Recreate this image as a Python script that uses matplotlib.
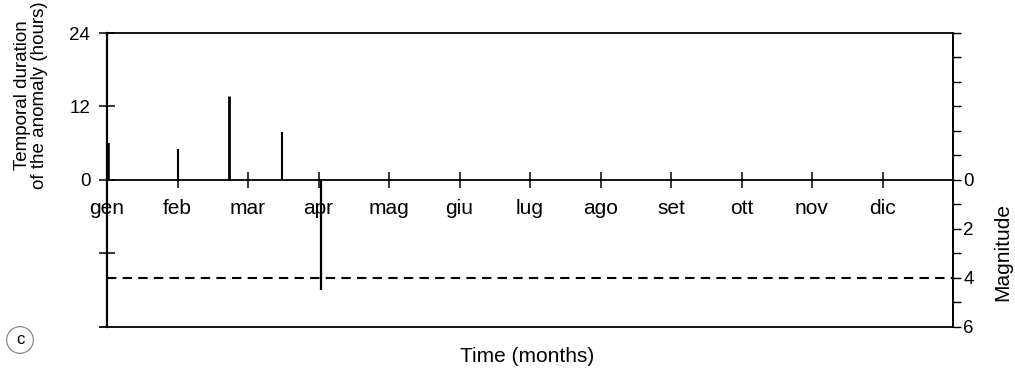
import matplotlib
matplotlib.use("Agg")
import matplotlib.pyplot as plt

plt.rcParams['font.family'] = ['Liberation Sans', 'DejaVu Sans']

# Month labels (Italian) and tick positions along the time axis (months)
months = ["gen", "feb", "mar", "apr", "mag", "giu",
          "lug", "ago", "set", "ott", "nov", "dic"]
month_pos = list(range(12))

# Anomaly durations (hours) and when they occurred (months from 1 Jan)
anomaly_time = [0.02, 1.0, 1.73, 2.48]
anomaly_hours = [6.0, 5.0, 13.7, 7.8]
anomaly_width = [2.6, 1.5, 2.0, 1.5]

# Earthquake magnitudes (plotted downward) and their times
quake_time = [3.04]
quake_mag = [4.5]

# Magnitude threshold
threshold_mag = 4.0

hour_ticks = [24, 12, 0, -12]
hour_labels = ["24", "12", "0", ""]
mag_ticks = [-6, -5, -4, -3, -2, -1, 0, 1, 2, 3, 4, 5, 6]
mag_labels = ["", "", "", "", "", "", "0", "", "2", "", "4", "", "6"]

W, H = 1015, 373
fig = plt.figure(figsize=(W / 100, H / 100), dpi=100)
left, right, top, bottom = 107, 953, 33, 326.5
ax = fig.add_axes([left / W, 1 - bottom / H, (right - left) / W, (bottom - top) / H])

ax.set_xlim(0, 12)
ax.set_ylim(-24, 24)

lw = 1.3
for s in ["left", "right", "top"]:
    ax.spines[s].set_linewidth(lw)
ax.spines["left"].set_linewidth(1.6)
# the time axis runs along the zero line
ax.spines["bottom"].set_position(("data", 0))
ax.spines["bottom"].set_linewidth(lw)
ax.spines["bottom"].set_bounds(0, 12)
# lower frame edge, slightly overhanging on the left
ax.plot([-0.1, 12], [-24, -24], color="black", lw=lw, clip_on=False)

ax.set_xticks(month_pos)
ax.set_xticklabels(months, fontsize=15)
ax.tick_params(axis="x", direction="inout", length=12, width=1.1, pad=8)

ax.set_yticks(hour_ticks)
ax.set_yticklabels(hour_labels, fontsize=13.5)
ax.tick_params(axis="y", direction="inout", length=12, width=1.1, pad=6)

# anomaly durations as vertical spikes above the time axis
for t, h, w in zip(anomaly_time, anomaly_hours, anomaly_width):
    ax.vlines(t, 0, h, color="black", lw=w)

# magnitude axis on the right (increasing downward)
ax2 = ax.twinx()
ax2.set_ylim(6, -6)
for s in ax2.spines.values():
    s.set_visible(False)
ax2.spines["right"].set_visible(True)
ax2.spines["right"].set_linewidth(lw)
ax2.set_yticks(mag_ticks)
ax2.set_yticklabels(mag_labels, fontsize=13.5)
ax2.tick_params(axis="y", direction="out", length=6, width=1.0, pad=1.5)

ax2.vlines(quake_time, 0, quake_mag, color="black", lw=1.6)
ax2.axhline(threshold_mag, color="black", lw=1.5, linestyle=(0, (4.5, 3)))

fig.text(31 / W, 1 - 95 / H, "Temporal duration\nof the anomaly (hours)",
         rotation=90, ha="center", va="center", fontsize=13.5,
         multialignment="center", linespacing=1.05)
fig.text(1003 / W, 1 - 252 / H, "Magnitude", rotation=90,
         ha="center", va="center", fontsize=15)
fig.text(527 / W, 1 - 357 / H, "Time (months)", ha="center", va="center",
         fontsize=15)
fig.text(20 / W, 1 - 340 / H, "c", ha="center", va="center", fontsize=12,
         bbox=dict(boxstyle="circle,pad=0.35", fc="white", ec="#888888", lw=0.9))

fig.savefig("out.png", dpi=100)
